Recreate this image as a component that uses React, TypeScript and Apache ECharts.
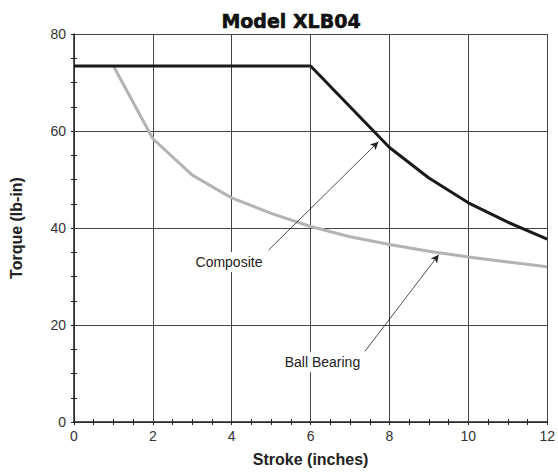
import React, { useEffect, useRef } from "react";
import * as echarts from "echarts";

const compositeX = [0, 6, 7, 8, 9, 10, 11, 12];
const compositeY = [73.4, 73.4, 65.0, 56.6, 50.3, 45.2, 41.2, 37.7];
const ballX = [1, 2, 3, 4, 5, 6, 7, 8, 9, 10, 11, 12];
const ballY = [73.4, 58.4, 50.9, 46.2, 43.0, 40.3, 38.2, 36.6, 35.2, 34.0, 33.0, 32.0];
const compositeLabel = { text: "Composite", at: [3.93, 33.0], from: [4.93, 35.4], to: [7.72, 57.8] };
const ballLabel = { text: "Ball Bearing", at: [6.3, 12.3], from: [7.38, 14.6], to: [9.25, 34.5] };

const FONT = "Liberation Sans, Arial, sans-serif";

export default function App() {
  const ref = useRef<HTMLDivElement>(null);
  useEffect(() => {
    if (!ref.current) return;
    const chart = echarts.init(ref.current, undefined, { renderer: "svg" });
    const ann = (a: any) => ({
      markLine: {
        silent: true,
        symbol: ["none", "arrow"],
        symbolSize: [6, 8],
        lineStyle: { color: "#222", width: 0.8, type: "solid" },
        label: { show: false },
        data: [[{ coord: a.from }, { coord: a.to }]],
      },
      markPoint: {
        silent: true,
        symbol: "circle",
        symbolSize: 0,
        data: [{ coord: a.at }],
        label: {
          show: true,
          position: "inside",
          formatter: a.text,
          color: "#222",
          fontSize: 14,
          fontFamily: FONT,
          backgroundColor: "#fff",
          padding: [3, 2],
        },
      },
    });
    const xBase = { type: "value", min: 0, max: 12, interval: 2 };
    const yBase = { type: "value", min: 0, max: 80, interval: 20 };
    const overlay = {
      axisLine: { show: false },
      axisLabel: { show: false },
      splitLine: { show: false },
      axisTick: { show: false },
      minorTick: { show: true, splitNumber: 4, length: 3, lineStyle: { color: "#222" } },
    };
    chart.setOption({
      animation: false,
      backgroundColor: "#fff",
      title: {
        text: "Model XLB04",
        left: 286,
        top: 6,
        textAlign: "center",
        textStyle: {
          fontFamily: "DejaVu Sans",
          fontWeight: "bold",
          fontSize: 19,
          color: "#111",
          textBorderColor: "#111",
          textBorderWidth: 0.6,
        },
      },
      grid: { left: 73, right: 10, top: 34, bottom: 49 },
      xAxis: [
        {
          ...xBase,
          name: "Stroke (inches)",
          nameLocation: "middle",
          nameGap: 29,
          nameTextStyle: { fontFamily: FONT, fontWeight: "bold", fontSize: 16, color: "#222" },
          axisLine: { lineStyle: { color: "#222", width: 1.5 } },
          axisTick: { show: true, length: 3, lineStyle: { color: "#222" } },
          minorTick: { show: true, splitNumber: 4, length: 3, lineStyle: { color: "#222" } },
          axisLabel: { fontFamily: FONT, fontSize: 14, color: "#333", margin: 7 },
          splitLine: { show: true, lineStyle: { color: "#444", width: 1 } },
        },
        {
          ...xBase,
          position: "bottom",
          ...overlay,
          axisTick: { show: false, inside: true },
          minorTick: { ...overlay.minorTick },
        },
      ],
      yAxis: [
        {
          ...yBase,
          name: "Torque (lb-in)",
          nameLocation: "middle",
          nameGap: 50,
          nameTextStyle: { fontFamily: FONT, fontWeight: "bold", fontSize: 16, color: "#222" },
          axisLine: { show: true, lineStyle: { color: "#222", width: 1.5 } },
          axisTick: { show: true, length: 3, lineStyle: { color: "#222" } },
          minorTick: { show: true, splitNumber: 4, length: 3, lineStyle: { color: "#222" } },
          axisLabel: { fontFamily: FONT, fontSize: 14, color: "#333", margin: 8 },
          splitLine: { show: true, lineStyle: { color: "#444", width: 1 } },
        },
        {
          ...yBase,
          position: "left",
          ...overlay,
          axisTick: { show: false, inside: true },
          minorTick: { ...overlay.minorTick },
        },
      ],
      series: [
        {
          name: "Ball Bearing",
          type: "line",
          data: ballX.map((x, i) => [x, ballY[i]]),
          showSymbol: false,
          lineStyle: { color: "#b3b3b3", width: 3 },
          z: 3,
          ...ann(ballLabel),
        },
        {
          name: "Composite",
          type: "line",
          data: compositeX.map((x, i) => [x, compositeY[i]]),
          showSymbol: false,
          lineStyle: { color: "#1a1a1a", width: 3 },
          z: 4,
          ...ann(compositeLabel),
        },
      ],
    });
    return () => chart.dispose();
  }, []);
  return (
    <div
      ref={ref}
      style={{ position: "fixed", left: 0, top: 0, width: 558, height: 472 }}
    />
  );
}
